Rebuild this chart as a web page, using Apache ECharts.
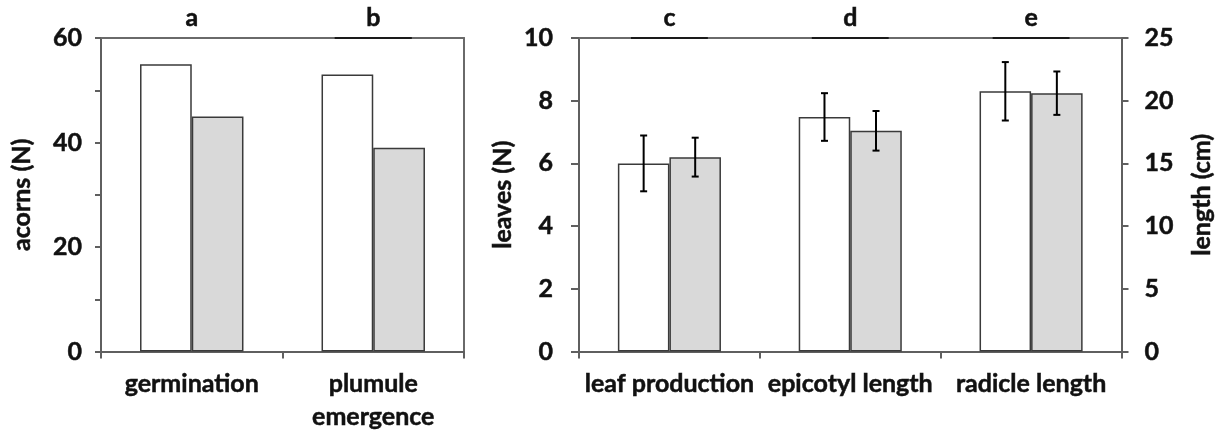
<!DOCTYPE html>
<html>
<head>
<meta charset="utf-8">
<script src="https://cdn.jsdelivr.net/npm/echarts@6/dist/echarts.min.js"></script>
<style>
  html, body { margin: 0; padding: 0; background: #fff; }
  #chart { width: 1220px; height: 430px; }
</style>
</head>
<body>
<div id="chart"></div>
<script>
// ---- data -------------------------------------------------------------
// Left panel: number of acorns
const acornCategories = ['germination', 'plumule\nemergence'];
const acornLetters = ['a', 'b'];
const acornRuled = [1];            // letters with a dark rule on the frame
const acornsControl = [55, 53];
const acornsTreated = [45, 39];
const acornTicks = [0, 20, 40, 60];

// Right panel: leaves (left axis) and lengths in cm (right axis)
const growthCategories = ['leaf production', 'epicotyl length', 'radicle length'];
const growthLetters = ['c', 'd', 'e'];
const growthRuled = [0, 1, 2];
const leavesControl = [6.0, '-', '-'];
const leavesControlErr = [0.89, '-', '-'];
const leavesTreated = [6.2, '-', '-'];
const leavesTreatedErr = [0.62, '-', '-'];
const lengthControl = ['-', 18.7, 20.75];
const lengthControlErr = ['-', 1.9, 2.33];
const lengthTreated = ['-', 17.6, 20.6];
const lengthTreatedErr = ['-', 1.58, 1.73];
const leavesTicks = [0, 2, 4, 6, 8, 10];
const lengthTicks = [0, 5, 10, 15, 20, 25];

// ---- style ------------------------------------------------------------
const FONT = 'Lato, "Open Sans", sans-serif';
const TEXT = '#111111';
const AXIS = '#5f5f5f';
const BAR_FRAC = 0.285;          // each bar's share of a category band
const SEG_FRAC = 0.425;          // dark rule under each letter
const labelStyle = {
  fontFamily: FONT, fontWeight: 'bold', fontSize: 25, color: TEXT,
  textBorderColor: TEXT, textBorderWidth: 0.5
};

function valueAxis(grid, pos, ticks, name, opts) {
  const step = ticks[1] - ticks[0];
  return Object.assign({
    type: 'value', gridIndex: grid, position: pos,
    min: ticks[0], max: ticks[ticks.length - 1], interval: step,
    name: name, nameLocation: 'middle', nameRotate: 90,
    nameTextStyle: Object.assign({}, labelStyle),
    axisLine: { show: true, onZero: false, lineStyle: { color: AXIS, width: 2 } },
    axisTick: { show: true, length: 7, lineStyle: { color: AXIS, width: 2 } },
    axisLabel: Object.assign({ margin: 22 }, labelStyle),
    splitLine: { show: false }
  }, opts || {});
}

function categoryAxis(grid, cats) {
  return {
    type: 'category', gridIndex: grid, position: 'bottom', data: cats,
    axisLine: { show: true, onZero: false, lineStyle: { color: AXIS, width: 2 } },
    axisTick: { show: true, length: 7, lineStyle: { color: AXIS, width: 2 } },
    axisLabel: Object.assign({ margin: 16, lineHeight: 33, verticalAlign: 'top', interval: 0 }, labelStyle)
  };
}

function letterAxis(grid, letters) {
  return {
    type: 'category', gridIndex: grid, position: 'top', data: letters,
    axisLine: { show: true, onZero: false, lineStyle: { color: '#6a6a6a', width: 2 } },
    axisTick: { show: false },
    axisLabel: Object.assign({ margin: 8, interval: 0 }, labelStyle)
  };
}

function barSeries(name, xi, yi, data, fill, stack) {
  return {
    type: 'bar', name: name, xAxisIndex: xi, yAxisIndex: yi, data: data,
    stack: stack, barWidth: (BAR_FRAC * 100) + '%', barGap: '0%',
    itemStyle: { color: fill, borderColor: '#3a3a3a', borderWidth: 1.5 },
    silent: true
  };
}

// vertical error bar centred on a bar; side -1 = left bar, +1 = right bar
function errorSeries(xi, yi, means, errs, side) {
  const data = [];
  means.forEach(function (m, i) {
    if (m === '-') return;
    data.push([i, m - errs[i], m + errs[i]]);
  });
  return {
    type: 'custom', xAxisIndex: xi, yAxisIndex: yi, data: data, silent: true, z: 5,
    renderItem: function (params, api) {
      const band = api.size([1, 0])[0];
      const off = side * band * BAR_FRAC / 2;
      const lo = api.coord([api.value(0), api.value(1)]);
      const hi = api.coord([api.value(0), api.value(2)]);
      const x = lo[0] + off, cap = 3.5;
      const st = { stroke: '#000', lineWidth: 2 };
      return {
        type: 'group', children: [
          { type: 'line', shape: { x1: x, y1: lo[1], x2: x, y2: hi[1] }, style: st },
          { type: 'line', shape: { x1: x - cap, y1: hi[1], x2: x + cap, y2: hi[1] }, style: st },
          { type: 'line', shape: { x1: x - cap, y1: lo[1], x2: x + cap, y2: lo[1] }, style: st }
        ]
      };
    }
  };
}

// short dark rule on the top frame under a panel letter
function letterRule(xi, yi, ruled, top) {
  return {
    type: 'custom', xAxisIndex: xi, yAxisIndex: yi, silent: true, z: 6,
    data: ruled.map(function (i) { return [i, top]; }),
    renderItem: function (params, api) {
      const band = api.size([1, 0])[0];
      const p = api.coord([api.value(0), api.value(1)]);
      const half = band * SEG_FRAC / 2;
      return { type: 'line', shape: { x1: p[0] - half, y1: p[1], x2: p[0] + half, y2: p[1] },
               style: { stroke: '#1a1a1a', lineWidth: 2 } };
    }
  };
}

const option = {
  animation: false,
  backgroundColor: '#fff',
  grid: [
    { left: 101, right: 756, top: 38, bottom: 78.5, outerBoundsMode: 'none', containLabel: false },
    { left: 579, right: 98.5, top: 38, bottom: 78.5, outerBoundsMode: 'none', containLabel: false }
  ],
  xAxis: [
    categoryAxis(0, acornCategories),
    letterAxis(0, acornLetters),
    categoryAxis(1, growthCategories),
    letterAxis(1, growthLetters)
  ],
  yAxis: [
    valueAxis(0, 'left', acornTicks, 'acorns (N)', {
      nameGap: 67, axisLabel: Object.assign({ margin: 19 }, labelStyle),
      minorTick: { show: true, splitNumber: 2, length: 6, lineStyle: { color: AXIS, width: 2 } },
      axisTick: { show: true, length: 6, lineStyle: { color: AXIS, width: 2 } }
    }),
    valueAxis(0, 'right', acornTicks, '', {
      axisLine: { show: true, onZero: false, lineStyle: { color: '#6a6a6a', width: 2 } },
      axisTick: { show: false }, axisLabel: { show: false }
    }),
    valueAxis(1, 'left', leavesTicks, 'leaves (N)', {
      nameGap: 64, axisLabel: Object.assign({ margin: 26 }, labelStyle),
      axisTick: { show: true, length: 8, lineStyle: { color: AXIS, width: 2 } }
    }),
    valueAxis(1, 'right', lengthTicks, 'length (cm)', {
      nameGap: 68, axisLabel: Object.assign({ margin: 23 }, labelStyle)
    })
  ],
  series: [
    barSeries('control', 0, 0, acornsControl, '#ffffff'),
    barSeries('treated', 0, 0, acornsTreated, '#d9d9d9'),
    barSeries('control leaves', 2, 2, leavesControl, '#ffffff', 'control'),
    barSeries('control length', 2, 3, lengthControl, '#ffffff', 'control'),
    barSeries('treated leaves', 2, 2, leavesTreated, '#d9d9d9', 'treated'),
    barSeries('treated length', 2, 3, lengthTreated, '#d9d9d9', 'treated'),
    errorSeries(2, 2, leavesControl, leavesControlErr, -1),
    errorSeries(2, 2, leavesTreated, leavesTreatedErr, 1),
    errorSeries(2, 3, lengthControl, lengthControlErr, -1),
    errorSeries(2, 3, lengthTreated, lengthTreatedErr, 1),
    letterRule(0, 0, acornRuled, acornTicks[acornTicks.length - 1]),
    letterRule(2, 2, growthRuled, leavesTicks[leavesTicks.length - 1])
  ]
};

const chart = echarts.init(document.getElementById('chart'), null, { renderer: 'canvas' });
chart.setOption(option);
</script>
</body>
</html>
